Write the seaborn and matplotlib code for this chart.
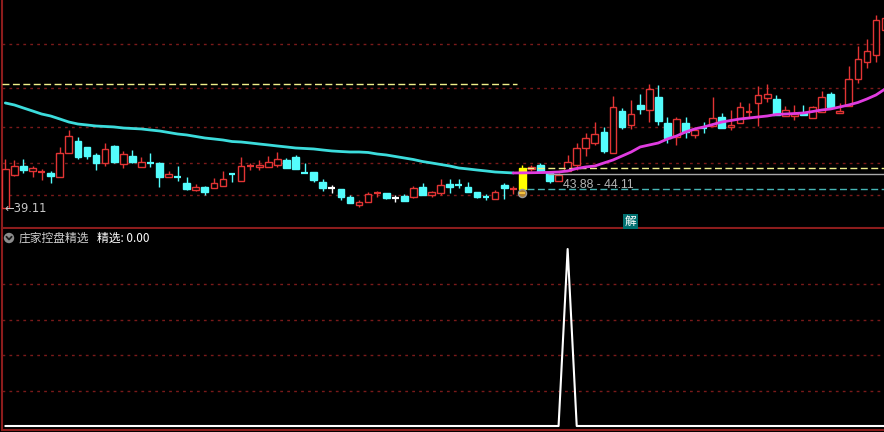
import numpy as np
import pandas as pd
import matplotlib
matplotlib.use("Agg")
import matplotlib.pyplot as plt
import matplotlib.patches as mpatches
import matplotlib.lines as mlines
import seaborn as sns

# ---------------- data ----------------
opens = [39.11, 43.24, 44.36, 43.74, 43.60, 43.49, 42.99, 45.99, 47.49, 46.74,
         45.74, 44.74, 46.86, 44.61, 45.61, 44.24, 44.75, 44.74, 42.99, 43.00,
         42.24, 41.36, 41.74, 41.61, 41.86, 43.37, 42.49, 44.35, 44.24, 44.24,
         44.49, 45.11, 45.49, 43.50, 43.61, 42.36, 41.61, 41.49, 40.49, 39.49,
         39.86, 40.98, 40.99, 40.36, 40.61, 40.49, 41.74, 40.74, 40.99, 42.11,
         42.00, 41.74, 41.11, 40.50, 40.24, 41.99, 41.48, 41.49, 43.99, 44.49,
         43.49, 42.49, 43.74, 44.49, 46.61, 47.24, 48.61, 45.99, 51.24, 49.49,
         51.99, 51.36, 52.99, 49.74, 47.99, 49.74, 48.24, 49.12, 49.36, 50.49,
         49.24, 49.74, 51.10, 52.24, 52.86, 52.74, 50.61, 50.61, 50.99, 50.36,
         51.11, 53.36, 50.99, 51.86, 55.24, 57.36, 58.24, 61.36]
highs = [45.24, 45.11, 45.24, 44.36, 43.99, 43.74, 46.74, 48.86, 47.99, 46.74,
         45.99, 47.24, 46.99, 46.24, 46.36, 45.49, 45.99, 44.86, 43.74, 44.36,
         42.99, 42.11, 41.86, 42.86, 43.74, 43.49, 45.49, 44.74, 45.11, 45.61,
         46.11, 45.36, 45.74, 44.74, 43.61, 42.74, 41.99, 41.49, 40.74, 40.11,
         41.11, 41.24, 40.99, 40.74, 40.86, 41.86, 42.24, 41.24, 42.74, 42.74,
         42.74, 42.36, 41.11, 40.86, 41.36, 42.24, 41.86, 44.49, 44.49, 44.74,
         43.49, 43.49, 45.74, 47.24, 48.49, 49.86, 49.24, 53.11, 51.61, 52.61,
         53.36, 54.61, 54.49, 50.49, 50.49, 50.49, 49.24, 49.86, 52.99, 50.99,
         51.36, 52.36, 52.24, 54.36, 54.61, 53.24, 51.86, 51.99, 51.99, 51.86,
         53.74, 53.61, 52.24, 56.86, 59.36, 60.24, 63.24, 63.36]
lows = [39.11, 43.11, 43.49, 42.99, 42.61, 42.24, 42.99, 45.99, 45.24, 45.24,
        43.86, 44.36, 44.74, 44.11, 44.74, 44.24, 44.24, 41.74, 42.99, 42.49,
        41.36, 41.24, 40.74, 41.61, 41.86, 42.36, 42.49, 43.86, 43.86, 44.24,
        44.24, 44.11, 43.99, 43.49, 42.36, 41.24, 40.99, 40.11, 39.74, 39.24,
        39.86, 40.49, 40.24, 39.86, 39.99, 40.36, 40.74, 40.49, 40.74, 40.99,
        41.61, 41.11, 40.36, 40.11, 40.24, 40.24, 40.86, 41.49, 43.74, 43.61,
        42.24, 42.49, 43.74, 43.86, 45.61, 46.99, 45.99, 45.99, 48.99, 48.99,
        50.86, 49.86, 49.49, 47.24, 46.99, 47.86, 47.86, 48.49, 49.36, 49.11,
        48.86, 49.74, 50.49, 49.36, 52.36, 50.74, 50.61, 50.11, 50.74, 50.36,
        51.11, 51.74, 50.99, 51.86, 54.74, 56.61, 57.36, 60.86]
closes = [43.99, 44.36, 43.86, 44.11, 43.61, 43.11, 45.99, 48.11, 45.49, 45.61,
          44.74, 46.49, 44.86, 45.86, 44.86, 44.86, 44.74, 42.99, 43.36, 42.99,
          41.49, 41.74, 41.11, 42.24, 42.74, 43.36, 44.36, 44.36, 44.49, 44.86,
          45.24, 44.11, 43.99, 43.49, 42.61, 41.61, 41.61, 40.49, 39.74, 39.86,
          40.86, 40.99, 40.36, 40.36, 39.99, 41.61, 40.74, 41.11, 41.99, 41.74,
          41.99, 41.11, 40.49, 40.49, 41.11, 41.61, 41.49, 44.11, 44.24, 43.61,
          42.49, 43.24, 44.86, 46.61, 47.86, 48.36, 46.24, 51.74, 49.24, 50.86,
          51.49, 53.99, 49.99, 47.86, 50.24, 48.61, 48.86, 49.11, 50.36, 49.11,
          49.49, 51.74, 51.11, 53.24, 53.36, 50.74, 51.36, 50.86, 50.74, 51.74,
          52.99, 51.74, 51.24, 55.24, 57.74, 58.74, 62.61, 62.86]
ma_line = [52.24, 51.99, 51.61, 51.24, 50.86, 50.61, 50.24, 49.86, 49.61, 49.49,
           49.36, 49.30, 49.24, 49.11, 49.05, 48.99, 48.86, 48.74, 48.55, 48.36,
           48.24, 48.05, 47.86, 47.74, 47.61, 47.42, 47.36, 47.24, 47.11, 46.99,
           46.86, 46.74, 46.61, 46.55, 46.49, 46.36, 46.24, 46.17, 46.11, 46.11,
           46.05, 45.86, 45.74, 45.55, 45.36, 45.17, 44.92, 44.74, 44.55, 44.36,
           44.11, 43.99, 43.86, 43.74, 43.61, 43.55, 43.49, 43.50, 43.52, 43.54,
           43.56, 43.61, 43.74, 44.05, 44.24, 44.36, 44.74, 45.11, 45.61, 46.11,
           46.74, 46.99, 47.24, 47.74, 48.11, 48.61, 48.99, 49.24, 49.55, 49.86,
           50.05, 50.24, 50.36, 50.49, 50.61, 50.80, 50.86, 50.92, 50.99, 51.17,
           51.36, 51.49, 51.74, 51.99, 52.30, 52.74, 53.24, 53.99]
signal = [0.0] * 62 + [1.0] + [0.0] * 35
marked_bar = 57                      # yellow highlighted bar
old_level, old_level_end = 54.61, 56.4
new_start = 57.5
upper_level, mid_level, lower_level = 44.11, 43.36, 41.49
range_text = "43.88 - 44.11"
low_text = "←39.11"
title_text = "庄家控盘精选"
value_text = "精选: 0.00"

# ---------------- style ----------------
sns.set_style("dark", {"axes.facecolor": "black", "figure.facecolor": "black"})
plt.rcParams["font.family"] = ["Noto Sans CJK SC", "DejaVu Sans"]

RED = "#e23434"
CYAN = "#54fcfc"
GRID = "#7a1a1a"
BORDER = "#8c1c1c"

fig = plt.figure(figsize=(8.84, 4.32), dpi=100, facecolor="black")
W, H = 884.0, 432.0
ax = fig.add_axes([1.5 / W, (H - 228) / H, (W - 1.5) / W, 228 / H])
ax2 = fig.add_axes([1.5 / W, 2 / H, (W - 1.5) / W, (430 - 229) / H])

n = len(opens)
idx = np.arange(n)
o = np.array(opens); c = np.array(closes); h = np.array(highs); l = np.array(lows)
xlim = (-0.42, 96.88)

for a in (ax, ax2):
    a.set_facecolor("black")
    a.set_xlim(*xlim)
    a.set_xticks([]); a.set_yticks([])
    for s in ("top", "right"):
        a.spines[s].set_visible(False)
    for s in ("left", "bottom"):
        a.spines[s].set_color(BORDER)
        a.spines[s].set_linewidth(1.5)
    a.grid(False)

ax.set_ylim(36.61, 65.11)
ax2.set_ylim(-0.0226, 1.113)

# grid lines
for g in (59.61, 54.11, 49.24, 44.74, 40.74):
    ax.axhline(g, color=GRID, lw=1, ls=(0, (2, 3)), zorder=0)
for g in (0.2, 0.4, 0.6, 0.8):
    ax2.axhline(g, color=GRID, lw=1, ls=(0, (2, 3)), zorder=0)

# candles
bw = 0.74
for i in range(n):
    if i == marked_bar:
        col = "#ffff00"
        ax.vlines(i, l[i], h[i], color=col, lw=1, zorder=2)
        ax.bar(i, c[i] - o[i], bottom=o[i], width=bw, color=col,
               edgecolor=col, lw=1, zorder=3)
        continue
    diff = c[i] - o[i]
    col = RED if diff > 0 else (CYAN if diff < 0 else "#ffffff")
    ax.vlines(i, l[i], h[i], color=col, lw=1, zorder=2)
    if abs(diff) < 0.05:
        ax.hlines(o[i], i - bw / 2, i + bw / 2, color=col, lw=1.6, zorder=3)
    elif diff > 0:
        ax.bar(i, diff, bottom=o[i], width=bw, facecolor="black",
               edgecolor=col, lw=1, zorder=3)
    else:
        ax.bar(i, diff, bottom=o[i], width=bw, facecolor=col,
               edgecolor=col, lw=1, zorder=3)

# marker under highlighted bar (small striped badge)
ax.scatter([marked_bar], [l[marked_bar] - 0.45], s=34, marker="o",
           facecolor="#b08030", edgecolor="#9a9a9a", lw=1, zorder=4)
ax.scatter([marked_bar], [l[marked_bar] - 0.45], s=16, marker="_",
           color="#ffd040", lw=1.2, zorder=5)

# moving average coloured by trend
switch = 56
df_ma = pd.concat([
    pd.DataFrame({"x": idx[:switch + 1], "y": ma_line[:switch + 1], "trend": "down"}),
    pd.DataFrame({"x": idx[switch:], "y": ma_line[switch:], "trend": "up"}),
])
sns.lineplot(data=df_ma, x="x", y="y", hue="trend", sort=False,
             palette={"down": "#3cdcdc", "up": "#e03ce0"}, lw=2,
             legend=False, ax=ax, zorder=5)

# level lines
ax.hlines(old_level, xlim[0], old_level_end, color="#f0f08a", lw=1,
          ls=(0, (5, 2.5)), zorder=4)
ax.hlines(upper_level, new_start, xlim[1], color="#f0f08a", lw=1,
          ls=(0, (5, 2.5)), zorder=4)
ax.hlines(mid_level, 59.8, xlim[1], color="#a8a8a8", lw=1, zorder=4)
ax.hlines(lower_level, new_start, xlim[1], color="#46b4b4", lw=1,
          ls=(0, (5, 2.5)), zorder=4)

ax.text(61.5, 41.99, range_text, color="#b4b4b4", fontsize=8.8,
        family=["Liberation Sans", "DejaVu Sans"], va="center", ha="left", zorder=6)
ax.text(-0.05, 39.11, low_text, color="#c8c8c8", fontsize=8.3,
        family=["DejaVu Sans"], va="center", ha="left", zorder=6)
ax.text(68.9, 37.42, "解", color="white", fontsize=8.5, va="center", ha="center",
        bbox=dict(boxstyle="square,pad=0.12", facecolor="#007070", edgecolor="none"),
        zorder=6)
ax.set_xlabel(""); ax.set_ylabel("")

# lower pane indicator
sns.lineplot(x=idx, y=signal, color="white", lw=1.5, ax=ax2, zorder=3)
ax2.set_xlabel(""); ax2.set_ylabel("")

# header icon: grey circle with a dark chevron
cx, cy, r = 9 / W, 1 - 238 / H, 5.2
fig.add_artist(mpatches.Ellipse((cx, cy), 2 * r / W, 2 * r / H,
                                transform=fig.transFigure, facecolor="#8c8c8c",
                                edgecolor="none"))
fig.add_artist(mlines.Line2D([cx - 2.6 / W, cx, cx + 2.6 / W],
                             [cy + 1.3 / H, cy - 1.5 / H, cy + 1.3 / H],
                             transform=fig.transFigure, color="#1a1a1a", lw=1.3))
fig.text(19 / W, 1 - 238 / H, title_text, color="#d0d0d0", fontsize=8.5,
         va="center", ha="left")
fig.text(97 / W, 1 - 238 / H, value_text, color="#ffffff", fontsize=8.5,
         va="center", ha="left")

fig.savefig("out.png", dpi=100, facecolor="black")
